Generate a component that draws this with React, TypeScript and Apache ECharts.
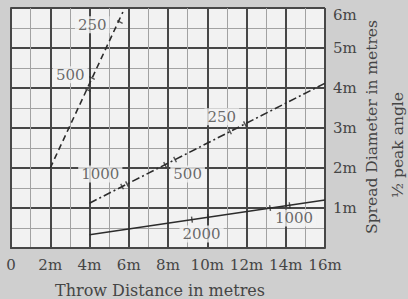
import React, { useEffect, useRef } from "react";
import * as echarts from "echarts";

// ---- data ----
const xTickValues = [0, 2, 4, 6, 8, 10, 12, 14, 16];
const xTickLabels = ["0", "2m", "4m", "6m", "8m", "10m", "12m", "14m", "16m"];
const yTickLabels = ["", "1m", "2m", "3m", "4m", "5m", "6m"];

const dashedLine: [number, number][] = [[2, 2], [5.7, 5.9]];
const dashDotLine: [number, number][] = [[4, 1.12], [16, 4.12]];
const solidLine: [number, number][] = [[4, 0.33], [16, 1.2]];

const dashedTicks: [number, number][] = [[3.92, 3.95], [4.13, 4.25], [5.55, 5.65]];
const dashDotTicks: [number, number][] = [
  [5.66, 1.535], [5.91, 1.6], [7.85, 2.08], [8.36, 2.21], [11.16, 2.91], [11.92, 3.1],
];
const solidTicks: [number, number][] = [[9.22, 0.71], [10.04, 0.77], [13.2, 1.0], [14.2, 1.07]];

const labelTexts = ["250", "500", "1000", "500", "250", "2000", "1000"];
const labelX = [4.14, 3.02, 4.55, 9.0, 10.74, 9.71, 14.42];
const labelY = [5.58, 4.33, 1.85, 1.85, 3.28, 0.35, 0.75];

const xTitle = "Throw Distance in metres";
const yTitle = "Spread Diameter in metres";
const angleTitle = "½ peak angle";

// ---- styles ----
const FONT = "DejaVu Serif";
const TEXT = "#454545";
const INK = "#2c2c2c";
const GRID_MAJOR = "#474747";
const GRID_MINOR = "#a2a2a2";
const BG = "#cfcfcf";
const PLOT_BG = "#f2f2f2";

export default function App() {
  const ref = useRef<HTMLDivElement>(null);
  useEffect(() => {
    if (!ref.current) return;
    const chart = echarts.init(ref.current, null, { renderer: "svg" });
    const tickSeries = (data: [number, number][], rot: number) => ({
      type: "scatter",
      data,
      symbol: "rect",
      symbolSize: [1.4, 6],
      symbolRotate: rot,
      itemStyle: { color: INK },
      z: 4,
      silent: true,
    });
    chart.setOption({
      animation: false,
      backgroundColor: BG,
      textStyle: { fontFamily: FONT },
      grid: {
        left: 11, right: 83, top: 8, bottom: 51,
        show: true, backgroundColor: PLOT_BG, borderWidth: 0,
      },
      xAxis: {
        type: "value", min: 0, max: 16, interval: 2,
        axisLine: { show: true, onZero: false, lineStyle: { color: GRID_MAJOR, width: 2 } },
        axisTick: { show: false },
        axisLabel: {
          interval: 0, hideOverlap: false,
          color: TEXT, fontFamily: FONT, fontSize: 15, margin: 9,
          formatter: (v: number) => xTickLabels[xTickValues.indexOf(v)] ?? "",
        },
        splitLine: { show: true, lineStyle: { color: GRID_MAJOR, width: 2 } },
        minorTick: { show: false, splitNumber: 2 },
        minorSplitLine: { show: true, lineStyle: { color: GRID_MINOR, width: 1 } },
      },
      yAxis: {
        type: "value", min: 0, max: 6, interval: 1, position: "right",
        axisLine: { show: true, lineStyle: { color: GRID_MAJOR, width: 2 } },
        axisTick: { show: false },
        axisLabel: {
          color: TEXT, fontFamily: FONT, fontSize: 15, margin: 8,
          formatter: (v: number) => (v === 6 ? "{t|" + yTickLabels[v] + "}" : yTickLabels[v] ?? ""),
          rich: { t: { padding: [13, 0, 0, 0], color: TEXT, fontFamily: FONT, fontSize: 15 } },
        },
        splitLine: { show: true, lineStyle: { color: GRID_MAJOR, width: 2 } },
        minorTick: { show: false, splitNumber: 2 },
        minorSplitLine: { show: true, lineStyle: { color: GRID_MINOR, width: 1 } },
      },
      series: [
        {
          type: "scatter",
          data: labelTexts.map((t, i) => ({ name: t, value: [labelX[i], labelY[i]] })),
          symbolSize: 0,
          silent: true,
          z: 1,
          label: {
            show: true, position: "inside", formatter: "{b}",
            color: TEXT, fontFamily: FONT, fontSize: 15,
            backgroundColor: PLOT_BG, padding: [1, 3],
          },
        },
        {
          type: "line", data: dashedLine, showSymbol: false, z: 3,
          lineStyle: { color: INK, width: 1.6, type: [6, 4] },
        },
        {
          type: "line", data: dashDotLine, showSymbol: false, z: 3,
          lineStyle: { color: INK, width: 1.6, type: [8, 3, 2, 3] },
        },
        {
          type: "line", data: solidLine, showSymbol: false, z: 3,
          lineStyle: { color: INK, width: 1.6 },
        },
        tickSeries(dashedTicks, 65),
        tickSeries(dashDotTicks, 27),
        tickSeries(solidTicks, 8),
      ],
      graphic: [
        {
          type: "text", x: 160, y: 290,
          style: { text: xTitle, fill: TEXT, font: `16px '${FONT}'`, align: "center", verticalAlign: "middle" },
        },
        {
          type: "text", x: 372, y: 127, rotation: Math.PI / 2,
          style: { text: yTitle, fill: TEXT, font: `15.5px '${FONT}'`, align: "center", verticalAlign: "middle" },
        },
        {
          type: "text", x: 398, y: 145, rotation: Math.PI / 2,
          style: { text: angleTitle, fill: TEXT, font: `15.5px '${FONT}'`, align: "center", verticalAlign: "middle" },
        },
      ],
    });
    return () => chart.dispose();
  }, []);
  return (
    <div
      ref={ref}
      style={{ position: "fixed", left: 0, top: 0, width: 408, height: 299, background: BG }}
    />
  );
}
